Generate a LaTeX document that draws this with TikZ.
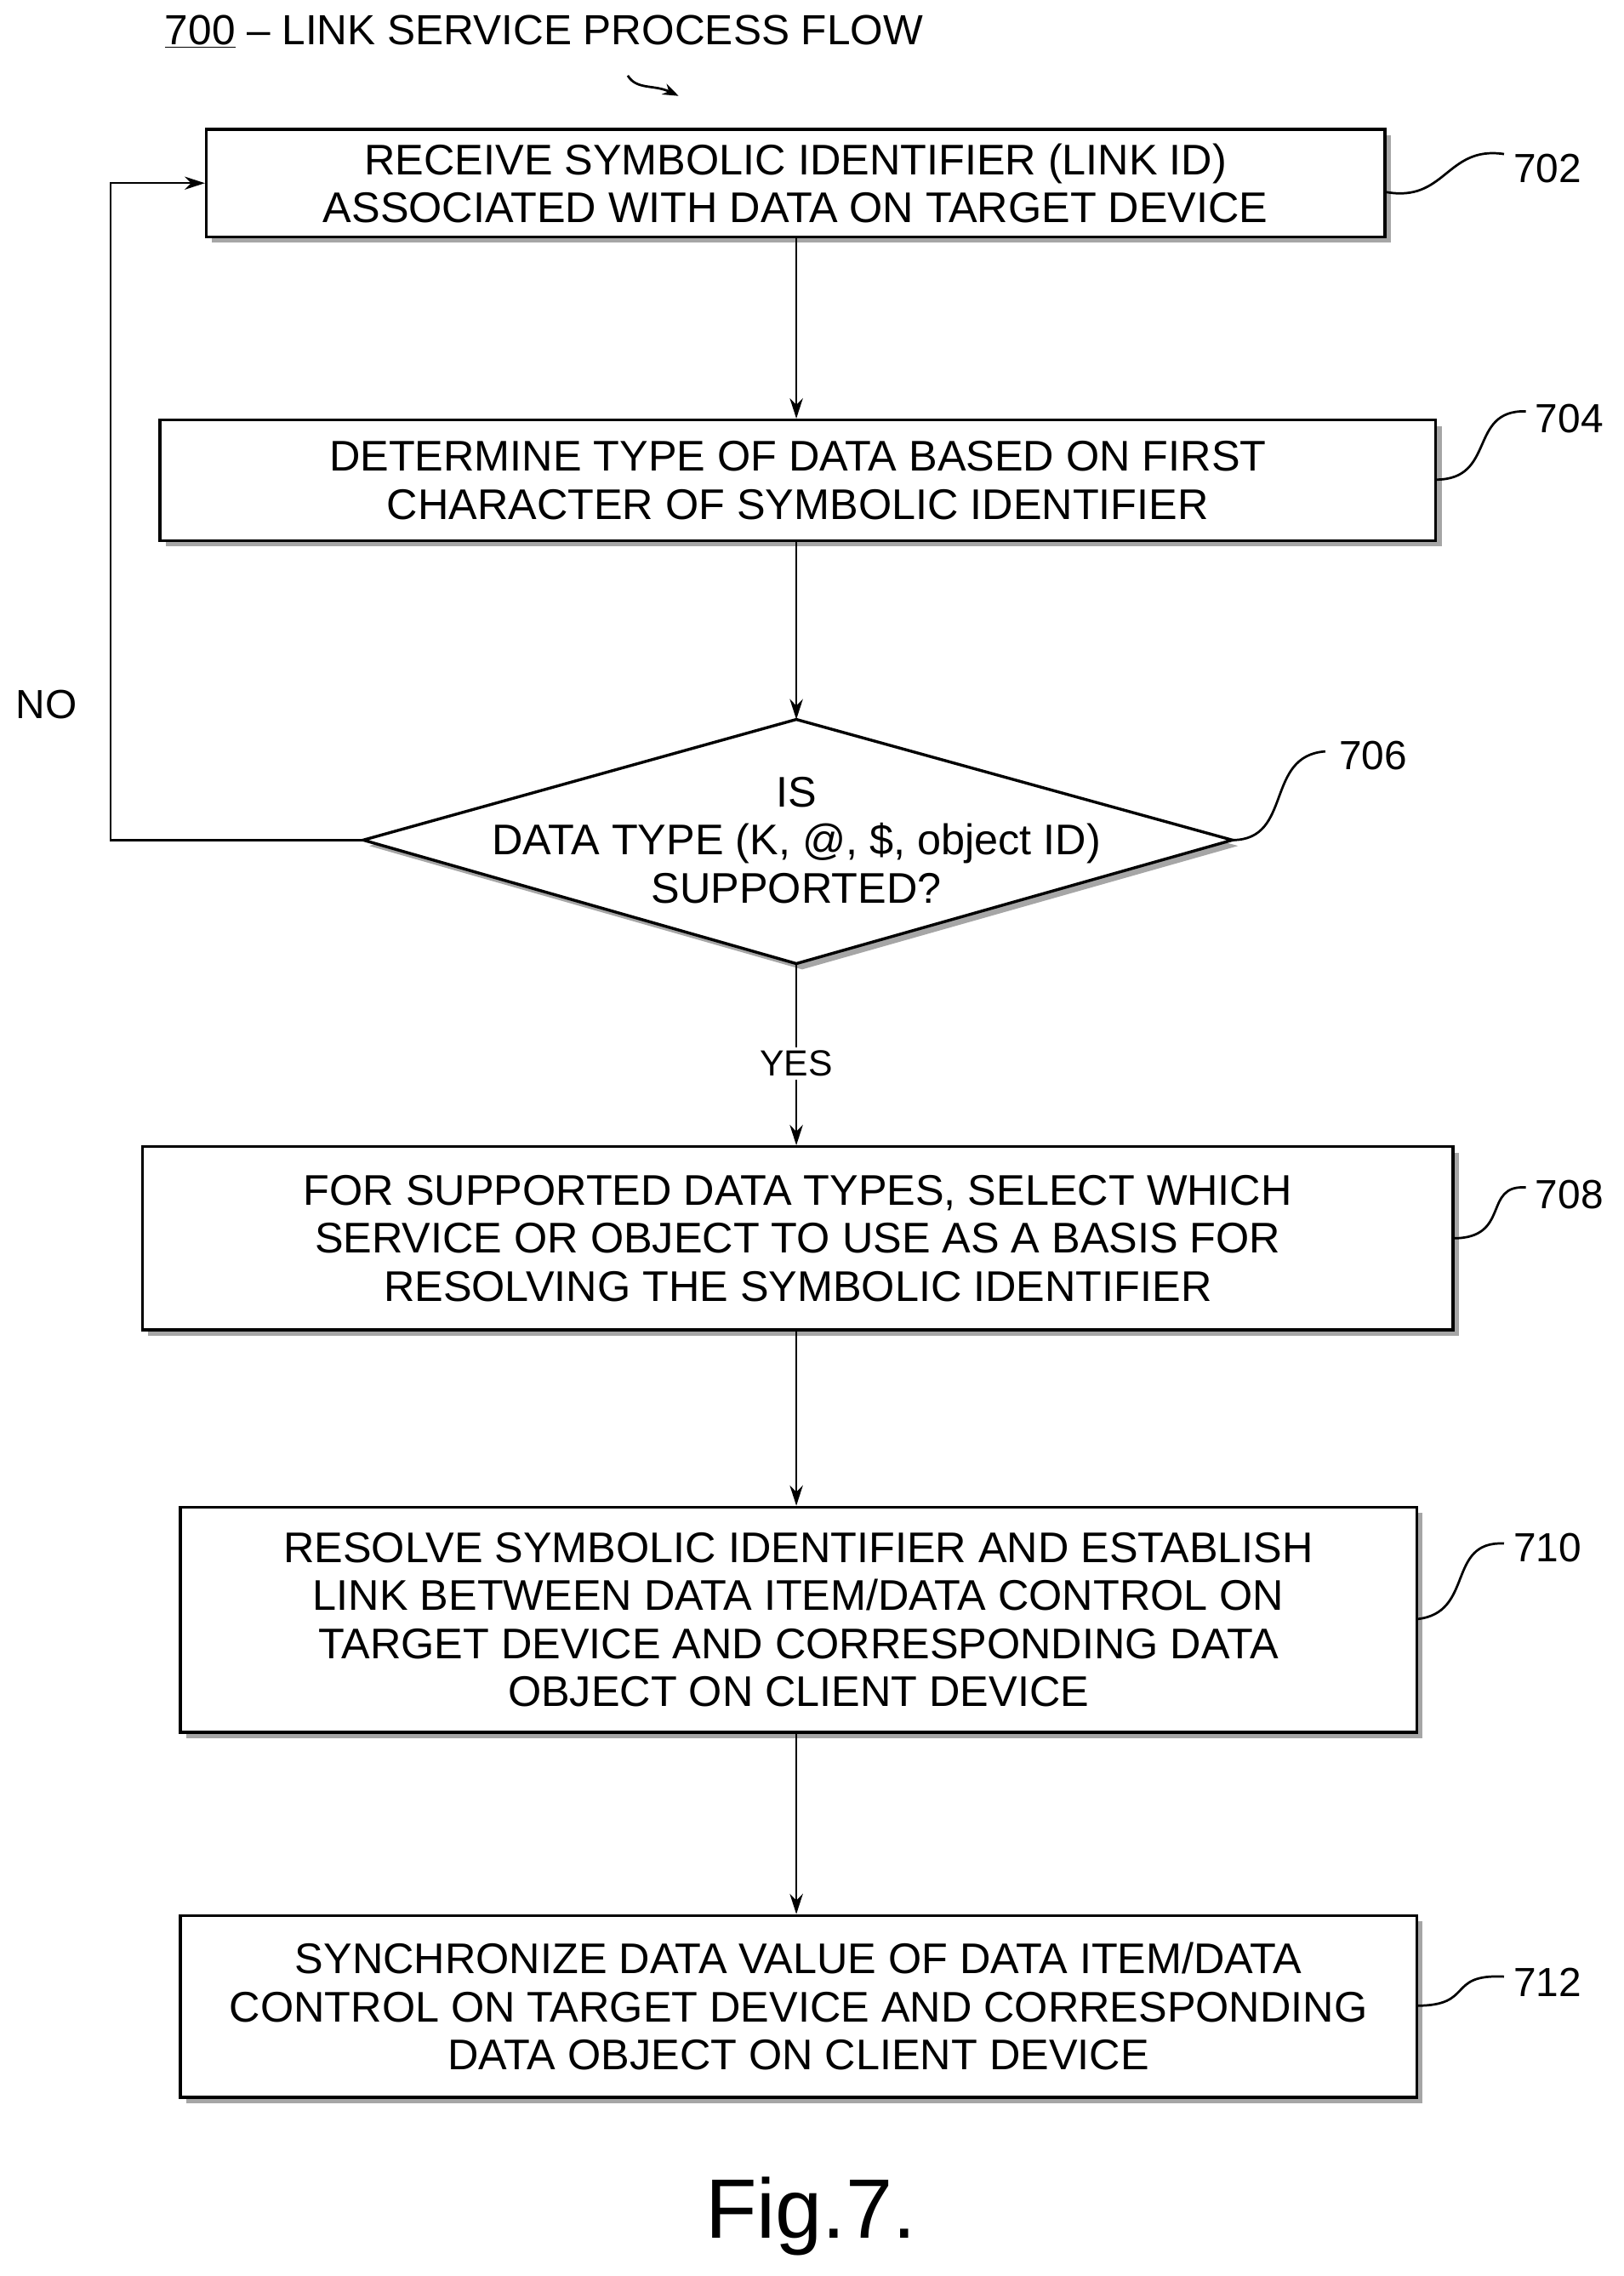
\documentclass[tikz,border=0pt]{standalone}
\usepackage{fontspec}
\setmainfont{Liberation Sans}
\usetikzlibrary{shadows,arrows.meta,calc}
\begin{document}
\begin{tikzpicture}[x=1pt,y=-1pt,
  txt/.style={font=\fontsize{29.5}{33}\selectfont,align=center},
  box/.style={draw,line width=2pt,fill=white,txt,inner sep=0pt,
    drop shadow={shadow xshift=4pt,shadow yshift=-4pt,fill=gray!70,opacity=1}},
  arr/.style={line width=1.4pt,-{Stealth[length=14pt,width=9pt]}},
  lab/.style={font=\fontsize{28}{30}\selectfont},
  sq/.style={line width=1.6pt}]
\useasboundingbox (0,0) rectangle (1117,1566);
\node[font=\fontsize{29}{30}\selectfont,anchor=west] (title) at (110,22) {\underline{700} -- LINK SERVICE PROCESS FLOW};
\coordinate (ta) at (432,52); \coordinate (tb) at (467,66);
\draw[line width=1.6pt,-{Stealth[length=11pt,width=8pt]}] (ta) .. controls (438,62) and (450,58) .. (tb);

\node[box,minimum width=811,minimum height=74] (b702) at (547.5,126) {RECEIVE SYMBOLIC IDENTIFIER (LINK ID)\\ASSOCIATED WITH DATA ON TARGET DEVICE};
\node[box,minimum width=878,minimum height=83] (b704) at (549,330.5) {DETERMINE TYPE OF DATA BASED ON FIRST\\CHARACTER OF SYMBOLIC IDENTIFIER};
\coordinate (dt) at (548,495); \coordinate (db) at (548,663);
\coordinate (dl) at (250,578); \coordinate (dr) at (848,578);
\fill[gray!70] ($(dt)+(4,4)$) -- ($(dr)+(4,4)$) -- ($(db)+(4,4)$) -- ($(dl)+(4,4)$) -- cycle;
\draw[line width=2pt,fill=white] (dt) -- (dr) -- (db) -- (dl) -- cycle;
\node[txt] (d706) at (548,578) {IS\\DATA TYPE (K, @, \$, object ID)\\SUPPORTED?};
\node[box,minimum width=902,minimum height=126] (b708) at (549,852) {FOR SUPPORTED DATA TYPES, SELECT WHICH\\SERVICE OR OBJECT TO USE AS A BASIS FOR\\RESOLVING THE SYMBOLIC IDENTIFIER};
\node[box,minimum width=851,minimum height=155] (b710) at (549.5,1114.5) {RESOLVE SYMBOLIC IDENTIFIER AND ESTABLISH\\LINK BETWEEN DATA ITEM/DATA CONTROL ON\\TARGET DEVICE AND CORRESPONDING DATA\\OBJECT ON CLIENT DEVICE};
\node[box,minimum width=851,minimum height=125] (b712) at (549.5,1380.5) {SYNCHRONIZE DATA VALUE OF DATA ITEM/DATA\\CONTROL ON TARGET DEVICE AND CORRESPONDING\\DATA OBJECT ON CLIENT DEVICE};

\draw[arr] (b702.south -| dt) -- (b704.north -| dt);
\draw[arr] (b704.south -| dt) -- (dt);
\draw[arr] (db) -- (b708.north -| db) node[pos=0.55,fill=white,font=\fontsize{25}{28}\selectfont,inner sep=2pt] (yes) {YES};
\draw[arr] (b708.south -| dt) -- (b710.north -| dt);
\draw[arr] (b710.south -| dt) -- (b712.north -| dt);
\coordinate (c1) at (76,578); \coordinate (c2) at (76,126);
\draw[arr] (dl) -- (c1) -- (c2) -- (b702.west);
\node[lab] (no) at (32,485) {NO};

\node[lab] (l702) at (1065,116) {702};
\draw[sq] (953,132) .. controls (995,140) and (995,100) .. (1035,106);
\node[lab] (l704) at (1080,288) {704};
\draw[sq] (988,330) .. controls (1030,330) and (1010,282) .. (1050,283);
\node[lab] (l706) at (945,520) {706};
\draw[sq] (848,578) .. controls (890,578) and (870,520) .. (912,517);
\node[lab] (l708) at (1080,822) {708};
\draw[sq] (1000,852) .. controls (1040,852) and (1020,815) .. (1050,817);
\node[lab] (l710) at (1065,1065) {710};
\draw[sq] (975,1114) .. controls (1015,1110) and (995,1060) .. (1035,1062);
\node[lab] (l712) at (1065,1364) {712};
\draw[sq] (975,1380) .. controls (1015,1380) and (995,1358) .. (1035,1360);

\node[font=\fontsize{58}{60}\selectfont] (fig) at (558,1525) {Fig.7.};
\end{tikzpicture}
\end{document}
